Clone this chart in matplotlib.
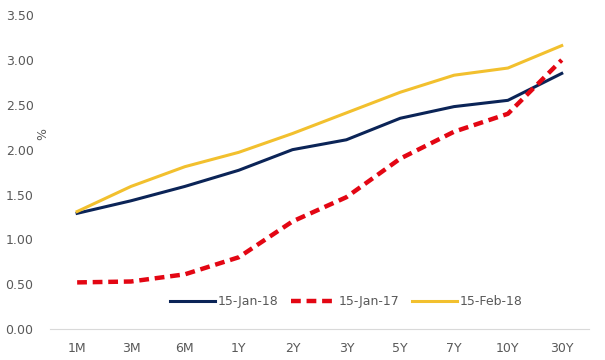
import matplotlib.pyplot as plt

tenors = ['1M', '3M', '6M', '1Y', '2Y', '3Y', '5Y', '7Y', '10Y', '30Y']
jan18 = [1.29, 1.43, 1.59, 1.77, 2.00, 2.11, 2.35, 2.48, 2.55, 2.85]
jan17 = [0.52, 0.53, 0.61, 0.80, 1.20, 1.47, 1.90, 2.20, 2.40, 3.00]
feb18 = [1.31, 1.59, 1.81, 1.97, 2.18, 2.41, 2.64, 2.83, 2.91, 3.16]

fig = plt.figure(figsize=(6.05, 3.6), dpi=100)
ax = fig.add_axes([0.083, 0.086, 0.89, 0.872])

x = range(len(tenors))
ax.plot(x, jan18, color='#0b2457', lw=2.2, label='15-Jan-18')
ax.plot(x, jan17, color='#e30613', lw=3.2, ls=(0, (2.2, 1.3)), label='15-Jan-17')
ax.plot(x, feb18, color='#f2c02e', lw=2.2, label='15-Feb-18')

ax.set_xlim(-0.5, len(tenors) - 0.5)
ax.set_ylim(0, 3.5)
ax.set_yticks([0, 0.5, 1, 1.5, 2, 2.5, 3, 3.5])
ax.set_yticklabels(['%.2f' % v for v in ax.get_yticks()])
ax.set_xticks(list(x))
ax.set_xticklabels(tenors)
ax.tick_params(length=0, labelsize=9, colors='#595959', pad=9)
ax.tick_params(axis='y', pad=12)
for s in ['top', 'right', 'left']:
    ax.spines[s].set_visible(False)
ax.spines['bottom'].set_color('#d9d9d9')

ax.text(-0.013, 0.62, '%', transform=ax.transAxes, rotation=90, fontsize=9,
        color='#595959', ha='center', va='center')

ax.legend(loc='lower center', bbox_to_anchor=(0.55, 0.03), ncol=3, frameon=False,
          fontsize=9, labelcolor='#595959', handlelength=3.6, handletextpad=0.2,
          columnspacing=1.0)

plt.savefig('out.png')
